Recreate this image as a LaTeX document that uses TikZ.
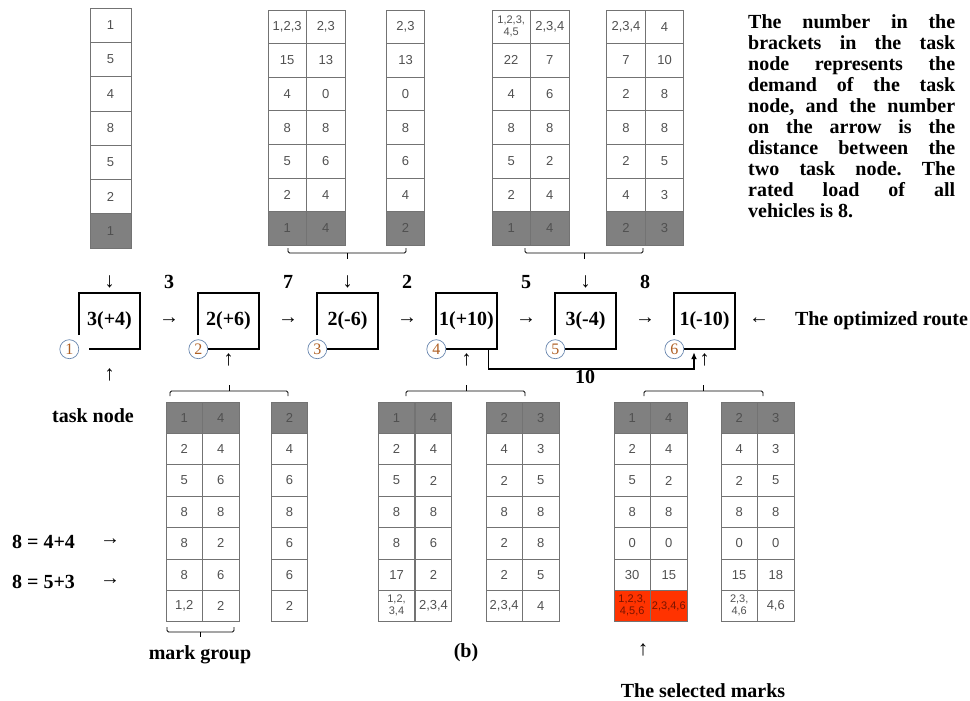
\documentclass[tikz,border=0pt]{standalone}
\usepackage{fontspec}
\setmainfont{Liberation Serif}
\newfontfamily\cellfont{Liberation Sans}
\usetikzlibrary{positioning,calc,arrows.meta}

\definecolor{darkfill}{RGB}{128,128,128}
\definecolor{redfill}{RGB}{255,51,0}
\definecolor{redtext}{RGB}{120,20,0}
\definecolor{celltext}{RGB}{80,80,80}
\definecolor{cellline}{RGB}{115,115,115}
\definecolor{ringblue}{RGB}{105,135,175}
\definecolor{digitbrown}{RGB}{175,95,35}

% two short lines of marks in one cell
\newcommand{\twolines}[2]{{\fontsize{11}{12.5}\selectfont\begin{tabular}{@{}c@{}}#1\\#2\end{tabular}}}

% one column of a mark table: name, x, top y, row height, shaded row, values
\newcommand{\markcol}[6]{%
  \foreach \v [count=\i] in {#6}{%
    \ifnum\i=#5 \def\cellfill{darkfill}\else\def\cellfill{none}\fi
    \node[cell, fill=\cellfill, minimum height=#4pt] (#1-\i) at (#2,{#3+#4*(\i-0.5)}) {\v};
  }}

\begin{document}
\frenchspacing
\begin{tikzpicture}[x=1pt, y=-1pt,
    node distance=58.6pt,
    cell/.style={draw=cellline, line width=0.7pt, minimum width=38.5pt, inner sep=0pt,
      text=celltext, font=\cellfont\fontsize{13}{15}\selectfont},
    task/.style={minimum width=60pt, minimum height=56pt, inner sep=0pt,
      font=\bfseries\fontsize{20}{24}\selectfont},
    boxline/.style={line width=2pt},
    idx/.style={circle, draw=ringblue, line width=0.7pt, fill=white, minimum size=19pt,
      inner sep=0pt, text=digitbrown, font=\fontsize{16}{16}\selectfont},
    lbl/.style={font=\bfseries\fontsize{20}{24}\selectfont},
    glyph/.style={inner sep=0pt, font=\fontsize{20}{20}\selectfont},
    vglyph/.style={inner sep=0pt, font=\fontsize{21}{21}\selectfont},
    brace/.style={line width=0.9pt, rounded corners=1.5pt},
    link/.style={line width=1.5pt, -{Latex[length=7pt,width=6pt]}}
]
\useasboundingbox (0,0) rectangle (970,701);

% mark tables above the route
\begin{scope}[cell/.append style={minimum width=41pt}]
  \markcol{t1}{110.5}{8}{34.3}{7}{1,5,4,8,5,2,1}
\end{scope}
\markcol{t2a}{287.2}{10}{33.6}{7}{{1,2,3},15,4,8,5,2,1}
\markcol{t2b}{325.8}{10}{33.6}{7}{{2,3},13,0,8,6,4,4}
\markcol{t3}{405.5}{10}{33.6}{7}{{2,3},13,0,8,6,4,2}
\markcol{t4a}{511.2}{10}{33.6}{7}{{\twolines{1,2,3,}{4,5}},22,4,8,5,2,1}
\markcol{t4b}{549.8}{10}{33.6}{7}{{2,3,4},7,6,8,2,4,4}
\markcol{t5a}{626}{10}{33.6}{7}{{2,3,4},7,2,8,2,4,2}
\markcol{t5b}{664.5}{10}{33.6}{7}{4,10,8,8,5,3,3}

\draw[brace] (288,248) -- (288,253) -- (406,253) -- (406,248);
\draw[brace] (347,253) -- (347,259);
\draw[brace] (525,248) -- (525,253) -- (643,253) -- (643,248);
\draw[brace] (584,253) -- (584,259);

% the optimized route
\node[task] (n1) at (109.5,321) {3(+4)};
\node[task, right=of n1] (n2) {2(+6)};
\node[task, right=of n2] (n3) {2(-6)};
\node[task, right=of n3] (n4) {1(+10)};
\node[task, right=of n4] (n5) {3(-4)};
\node[task, right=of n5] (n6) {1(-10)};

\foreach \k in {1,...,6}
  \draw[boxline] ([yshift=14pt]n\k.south west) -- (n\k.north west) -- (n\k.north east)
    -- (n\k.south east) -- ([xshift=10pt]n\k.south west);

\node[idx] (c1) at ([xshift=-10pt]n1.south west) {1};
\foreach \k in {2,...,6}
  \node[idx] (c\k) at (n\k.south west) {\k};

% arrows and distances between task nodes
\foreach \a/\b/\d in {1/2/3, 2/3/7, 3/4/2, 4/5/5, 5/6/8}{
  \node[glyph] (a\a\b) at ($(n\a.east)!0.5!(n\b.west)$) {→};
  \node[lbl] (d\a\b) at ([yshift=39pt]a\a\b) {\d};
}

\foreach \k in {1,3,5}
  \node[vglyph] (dn\k) at ([yshift=11pt]n\k.north) {↓};
\foreach \k in {2,4,6}
  \node[vglyph] (up\k) at ([yshift=-11pt]n\k.south) {↑};
\node[vglyph] (up1) at ([yshift=-26pt]n1.south) {↑};

\coordinate (to6) at ([xshift=-10.5pt,yshift=-3pt]n6.south);
\draw[link] ([xshift=-8pt]n4.south east) -- ++(0,20) coordinate (r4)
  -- node[lbl, below=-3pt, pos=0.47] (d46) {10} (r4 -| to6) -- (to6);

\node[glyph] (rarrow) at (759,321) {←};
\node[lbl] (routelbl) at (881.5,321) {The optimized route};

% mark tables below the route
\draw[brace] (170,396) -- (170,391) -- (288,391) -- (288,396);
\draw[brace] (229,391) -- (229,385);
\draw[brace] (406,396) -- (406,391) -- (525,391) -- (525,396);
\draw[brace] (466,391) -- (466,385);
\draw[brace] (644,396) -- (644,391) -- (763,391) -- (763,396);
\draw[brace] (703,391) -- (703,385);

\fill[redfill] (614,590.4) rectangle (687,621.8);

\begin{scope}[cell/.append style={minimum width=36.5pt}]
  \markcol{b1a}{184.2}{402}{31.4}{1}{1,2,5,8,8,8,{1,2}}
  \markcol{b1b}{220.8}{402}{31.4}{1}{4,4,6,8,2,6,2}
  \markcol{b2}{289.5}{402}{31.4}{1}{2,4,6,8,6,6,2}
  \markcol{b3a}{396.5}{402}{31.4}{1}{1,2,5,8,8,17,{\twolines{1,2,}{3,4}}}
  \markcol{b3b}{433.5}{402}{31.4}{1}{4,4,2,8,6,2,{2,3,4}}
  \markcol{b4a}{504.2}{402}{31.4}{1}{2,4,2,8,2,2,{2,3,4}}
  \markcol{b4b}{540.8}{402}{31.4}{1}{3,3,5,8,8,5,4}
  \markcol{b5a}{632.2}{402}{31.4}{1}{1,2,5,8,0,30,{\color{redtext}\twolines{1,2,3,}{4,5,6}}}
  \markcol{b5b}{668.8}{402}{31.4}{1}{4,4,2,8,0,15,{\color{redtext}\fontsize{11}{12}\selectfont 2,3,4,6}}
  \markcol{b6a}{739.2}{402}{31.4}{1}{2,4,2,8,0,15,{\twolines{2,3,}{4,6}}}
  \markcol{b6b}{775.8}{402}{31.4}{1}{3,3,5,8,0,18,{4,6}}
\end{scope}

\draw[brace] (167,627) -- (167,632) -- (234,632) -- (234,627);
\draw[brace] (200.5,632) -- (200.5,637);

% side labels
\node[lbl] (tasknode) at (93,416) {task node};
\node[lbl] (sum1) at (43.5,542) {8 = 4+4};
\node[glyph] (sum1arrow) at (110,542) {→};
\node[lbl] (sum2) at (43.5,582) {8 = 5+3};
\node[glyph] (sum2arrow) at (110,582) {→};
\node[lbl] (markgroup) at (200,655) {mark group};
\node[lbl] (sub) at (466,653) {(b)};
\node[vglyph] (selarrow) at (643,650) {↑};
\node[lbl, anchor=base, inner sep=0pt] (selected) at (703,697) {The selected marks};

% note on the right
\node[lbl, text width=207pt, align=justify, anchor=north west, inner sep=0pt,
  font=\bfseries\fontsize{20}{21.1}\selectfont] (note) at (748,14) {The number in the\linebreak
  brackets in the task\linebreak node represents the\linebreak demand of the task\linebreak
  node, and the number\linebreak on the arrow is the\linebreak distance between the\linebreak
  two task node. The\linebreak rated load of all\linebreak vehicles is 8.};
\end{tikzpicture}
\end{document}
